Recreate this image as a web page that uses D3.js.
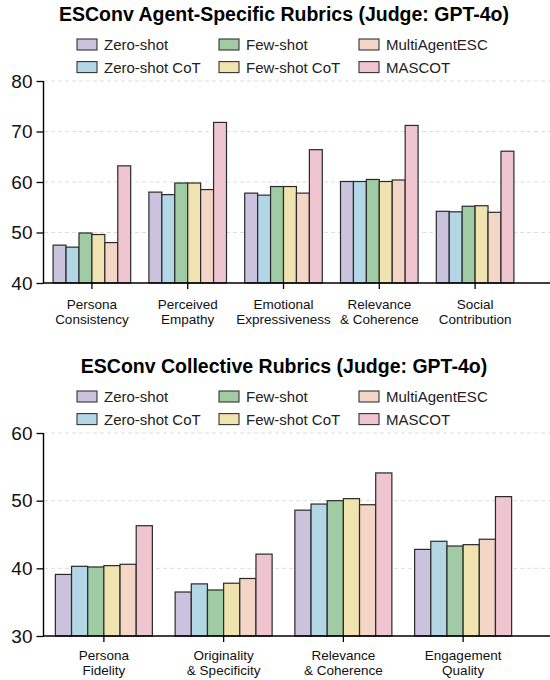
<html>
<head>
<script src="https://d3js.org/d3.v7.min.js"></script>
<style>
body { margin: 0; background: #fff; }
svg { display: block; font-family: 'Liberation Sans', Arial, sans-serif; }
</style>
</head>
<body>
<svg></svg>
<script>

var width = 550;
var height = 680;

// Series (methods) and their fill colours
var methods = ["Zero-shot", "Zero-shot CoT", "Few-shot", "Few-shot CoT", "MultiAgentESC", "MASCOT"];
var colors = ["#cbc3dd", "#b3d7e4", "#a0cba4", "#efe3b0", "#f4d6c6", "#efc5d0"];

// Top chart: agent-specific rubrics
var agentCats = ["Persona\nConsistency", "Perceived\nEmpathy", "Emotional\nExpressiveness", "Relevance\n& Coherence", "Social\nContribution"];
var agentZero = [47.5, 58.0, 57.8, 60.1, 54.2];
var agentZeroCot = [47.1, 57.5, 57.4, 60.1, 54.1];
var agentFew = [49.9, 59.8, 59.1, 60.5, 55.2];
var agentFewCot = [49.6, 59.8, 59.1, 60.1, 55.3];
var agentMulti = [48.0, 58.5, 57.8, 60.4, 54.0];
var agentMascot = [63.2, 71.8, 66.4, 71.2, 66.1];
var agentTicks = [40, 50, 60, 70, 80];

// Bottom chart: collective rubrics
var collCats = ["Persona\nFidelity", "Originality\n& Specificity", "Relevance\n& Coherence", "Engagement\nQuality"];
var collZero = [39.1, 36.5, 48.6, 42.8];
var collZeroCot = [40.3, 37.7, 49.5, 44.0];
var collFew = [40.2, 36.8, 50.0, 43.3];
var collFewCot = [40.4, 37.8, 50.3, 43.5];
var collMulti = [40.6, 38.5, 49.4, 44.3];
var collMascot = [46.3, 42.1, 54.1, 50.6];
var collTicks = [30, 40, 50, 60];

var svg = d3.select("svg").attr("width", width).attr("height", height);

function drawPanel(opt) {
	var g = svg.append("g");
	var series = [opt.s0, opt.s1, opt.s2, opt.s3, opt.s4, opt.s5];

	var x0 = d3.scaleBand().domain(opt.cats).range([44, 523]).paddingInner(0.19).paddingOuter(0.095);
	var x1 = d3.scaleBand().domain(methods).range([0, x0.bandwidth()]);
	var y = d3.scaleLinear().domain(opt.domain).range(opt.yRange);

	// title
	g.append("text")
		.attr("x", 284).attr("y", opt.titleY)
		.attr("text-anchor", "middle")
		.style("font-size", "19.5px").style("font-weight", "bold")
		.text(opt.title);

	// legend, 3 columns x 2 rows
	var colX = [77, 219, 359];
	methods.forEach(function (m, i) {
		var col = Math.floor(i / 2), row = i % 2;
		var lx = colX[col], ly = opt.legendY + row * 22.6;
		g.append("rect")
			.attr("x", lx).attr("y", ly).attr("width", 20).attr("height", 11)
			.style("fill", colors[i]).style("stroke", "#333").style("stroke-width", 1.1);
		g.append("text")
			.attr("x", lx + 27).attr("y", ly + 11)
			.style("font-size", "15px").style("fill", "#222")
			.text(m);
	});

	// gridlines
	g.selectAll(".grid").data(opt.ticks.slice(1)).enter().append("line")
		.attr("x1", 44).attr("x2", width)
		.attr("y1", function (d) { return y(d); }).attr("y2", function (d) { return y(d); })
		.style("stroke", "#dddddd").style("stroke-width", 1).style("stroke-dasharray", "4,3");

	// bars
	opt.cats.forEach(function (c, ci) {
		methods.forEach(function (m, mi) {
			var v = series[mi][ci];
			g.append("rect")
				.attr("x", x0(c) + x1(m))
				.attr("y", y(v))
				.attr("width", x1.bandwidth())
				.attr("height", y(opt.domain[0]) - y(v))
				.style("fill", colors[mi])
				.style("stroke", "#2a2a2a").style("stroke-width", 1.2);
		});
	});

	// y axis
	var yAxis = d3.axisLeft(y).tickValues(opt.ticks).tickSize(7).tickPadding(4);
	var ya = g.append("g").attr("transform", "translate(43.5,0)").call(yAxis);
	ya.select(".domain").attr("d", "M0," + y(opt.domain[1]) + "V" + y(opt.domain[0])).style("stroke-width", 1.4);
	ya.selectAll(".tick line").style("stroke-width", 1.3);
	ya.selectAll("text").style("font-size", "19px").style("fill", "#111").style("font-family", "'Liberation Sans', Arial, sans-serif");

	// x axis
	var xAxis = d3.axisBottom(x0).tickSize(6).tickFormat("");
	var xa = g.append("g").attr("transform", "translate(0," + y(opt.domain[0]) + ")").call(xAxis);
	xa.select(".domain").attr("d", "M43,0H" + width).style("stroke-width", 1.4);
	xa.selectAll(".tick line").style("stroke-width", 1.3);

	// multi-line category labels
	opt.cats.forEach(function (c) {
		var t = g.append("text")
			.attr("text-anchor", "middle")
			.style("font-size", "13.5px").style("fill", "#111");
		c.split("\n").forEach(function (line, li) {
			t.append("tspan")
				.attr("x", x0(c) + x0.bandwidth() / 2)
				.attr("y", opt.labelY + li * 15)
				.text(line);
		});
	});
}

drawPanel({
	title: "ESConv Agent-Specific Rubrics (Judge: GPT-4o)", titleY: 21, legendY: 39,
	cats: agentCats, s0: agentZero, s1: agentZeroCot, s2: agentFew, s3: agentFewCot, s4: agentMulti, s5: agentMascot,
	domain: [40, 80], yRange: [283, 81], ticks: agentTicks, labelY: 308.5
});

drawPanel({
	title: "ESConv Collective Rubrics (Judge: GPT-4o)", titleY: 373, legendY: 391,
	cats: collCats, s0: collZero, s1: collZeroCot, s2: collFew, s3: collFewCot, s4: collMulti, s5: collMascot,
	domain: [30, 60], yRange: [636, 433], ticks: collTicks, labelY: 660
});

</script>
</body>
</html>
